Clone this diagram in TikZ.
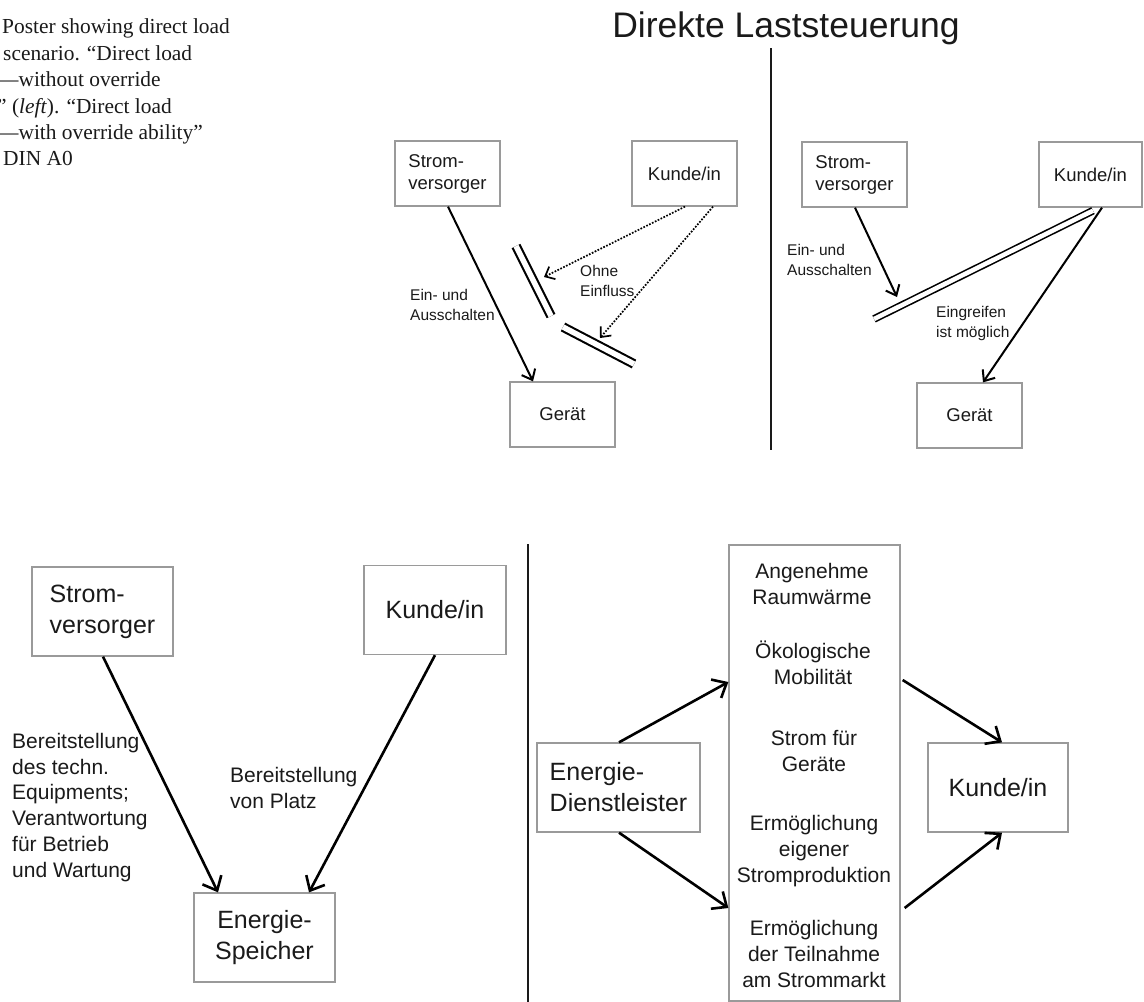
\documentclass[tikz,border=0pt]{standalone}
\usepackage{fontspec}
\setmainfont{Liberation Sans}
\newfontfamily\capfont{Liberation Serif}
\usetikzlibrary{arrows.meta,calc}
\definecolor{boxgray}{HTML}{9A9A9A}
\definecolor{ink}{HTML}{1A1A1A}
\tikzset{
  box/.style={draw=boxgray, line width=1.3pt, inner sep=0pt, align=center, text=ink},
  tbox/.style={box, minimum width=105pt, minimum height=65pt, font=\fontsize{18.5}{22}\selectfont},
  bbox/.style={box, minimum height=89pt, font=\fontsize{25}{31}\selectfont},
  slabel/.style={anchor=base west, inner sep=0pt, align=left, text=ink, font=\fontsize{15.5}{19.5}\selectfont},
  blabel/.style={anchor=base west, inner sep=0pt, align=left, text=ink, font=\fontsize{21}{25.7}\selectfont},
  clabel/.style={anchor=base, inner sep=0pt, align=center, text=ink, font=\fontsize{21}{26}\selectfont},
  tarrow/.style={line width=2pt, -{Straight Barb[length=9pt,width=15pt]}},
  barrow/.style={line width=2.6pt, -{Straight Barb[length=12pt,width=21pt]}},
  darrow/.style={line width=1.7pt, dash pattern=on 1.7pt off 1.5pt, -{Straight Barb[length=8pt,width=14pt]}},
  barrier/.style={double=white, double distance=5.5pt, line width=2.1pt},
  barriertwo/.style={double=white, double distance=4.5pt, line width=1.6pt},
  divider/.style={line width=2.6pt, draw=ink},
  caption/.style={anchor=base west, inner sep=0pt, font=\capfont\fontsize{21.4}{26}\selectfont, text=ink},
}
\begin{document}
\begin{tikzpicture}[x=1pt,y=-1pt]
\useasboundingbox (0,0) rectangle (1144,1002);
\clip (0,0) rectangle (1144,1002);
\fill[white] (0,0) rectangle (1144,1002);

% caption fragment
\node[caption] (cap1) at (2,33) {Poster showing direct load};
\node[caption] (cap2) at (3,60) {scenario. “Direct load};
\node[caption] (cap3) at (-3,86) {—without override};
\node[caption] (cap4) at (-3,113) {” (\textit{left}). “Direct load};
\node[caption] (cap5) at (-3,139) {—with override ability”};
\node[caption] (cap6) at (3,165) {DIN A0};

% title and dividers
\node[anchor=base, inner sep=0pt, text=ink, font=\fontsize{35.5}{40}\selectfont] (title) at (786,37) {Direkte Laststeuerung};
\coordinate (d1t) at (771,48);
\coordinate (d1b) at (771,450);
\draw[divider] (d1t) -- (d1b);
\coordinate (d2t) at (528,544);
\coordinate (d2b) at (528,1002);
\draw[divider] (d2t) -- (d2b);

% top left
\node[tbox, align=left] (tls) at (447.5,173.5) {Strom-\\versorger};
\node[tbox] (tlk) at (684.5,173.5) {Kunde/in};
\node[tbox] (tlg) at (562.5,414.5) {Gerät};
\draw[tarrow] ([xshift=0.5pt]tls.south) -- ([xshift=-29.5pt]tlg.north);
\coordinate (tlb1a) at (516,246);
\coordinate (tlb1b) at (551,316);
\draw[barrier] (tlb1a) -- (tlb1b);
\coordinate (tlb2a) at (563,327);
\coordinate (tlb2b) at (634,364);
\draw[barrier] (tlb2a) -- (tlb2b);
\coordinate (tld1) at (544,277);
\coordinate (tld2) at (600,338);
\draw[darrow] ([xshift=0.5pt]tlk.south) -- (tld1);
\draw[darrow] ([xshift=28.5pt]tlk.south) -- (tld2);
\node[slabel] (tll1) at (410,320) {Ein- und\\Ausschalten};
\node[slabel] (tll2) at (580,296) {Ohne\\Einfluss};

% top right
\node[tbox, align=left] (trs) at (854.5,174.5) {Strom-\\versorger};
\node[tbox, minimum width=103pt] (trk) at (1090.5,174.5) {Kunde/in};
\node[tbox] (trg) at (969.5,415.5) {Gerät};
\coordinate (trt) at (897,297);
\draw[tarrow] ([xshift=0.5pt]trs.south) -- (trt);
\coordinate (trb) at (874,319);
\draw[barriertwo] (trb) -- ([xshift=2.5pt,yshift=-3pt]trk.south);
\draw[tarrow] ([xshift=11.5pt]trk.south) -- ([xshift=13.5pt]trg.north);
\node[slabel] (trl1) at (787,275) {Ein- und\\Ausschalten};
\node[slabel] (trl2) at (936,337) {Eingreifen\\ist möglich};

% bottom left
\node[bbox, minimum width=141pt, align=left] (bls) at (102.5,611.5) {Strom-\\versorger};
\node[bbox, minimum width=142pt] (blk) at (435,610) {Kunde/in};
\node[bbox, minimum width=141pt] (ble) at (264.5,937.5) {Energie-\\Speicher};
\draw[barrow] ([xshift=0.5pt]bls.south) -- ([xshift=-46.5pt]ble.north);
\draw[barrow] (blk.south) -- ([xshift=44.5pt]ble.north);
\node[blabel] (bll1) at (12,877) {Bereitstellung\\des techn.\\Equipments;\\Verantwortung\\für Betrieb\\und Wartung};
\node[blabel] (bll2) at (230,808) {Bereitstellung\\von Platz};

% bottom right
\node[bbox, minimum width=163pt, align=left] (bre) at (618.5,787.5) {Energie-\\Dienstleister};
\node[box, minimum width=171pt, minimum height=456pt] (brc) at (814.5,773) {};
\node[bbox, minimum width=140pt] (brk) at (998,787.5) {Kunde/in};
\draw[barrow] ([xshift=0.5pt]bre.north) -- ([yshift=91pt]brc.west);
\draw[barrow] ([xshift=0.5pt]bre.south) -- ([yshift=-135pt]brc.west);
\draw[barrow] ([xshift=2pt,yshift=93pt]brc.east) -- ([xshift=4pt]brk.north);
\draw[barrow] ([xshift=4pt,yshift=-135pt]brc.east) -- ([xshift=4pt]brk.south);
\node[clabel] (c1) at (812,604) {Angenehme\\Raumwärme};
\node[clabel] (c2) at (813,684) {Ökologische\\Mobilität};
\node[clabel] (c3) at (814,771) {Strom für\\Geräte};
\node[clabel] (c4) at (814,882) {Ermöglichung\\eigener\\Stromproduktion};
\node[clabel] (c5) at (814,987) {Ermöglichung\\der Teilnahme\\am Strommarkt};
\end{tikzpicture}
\end{document}
